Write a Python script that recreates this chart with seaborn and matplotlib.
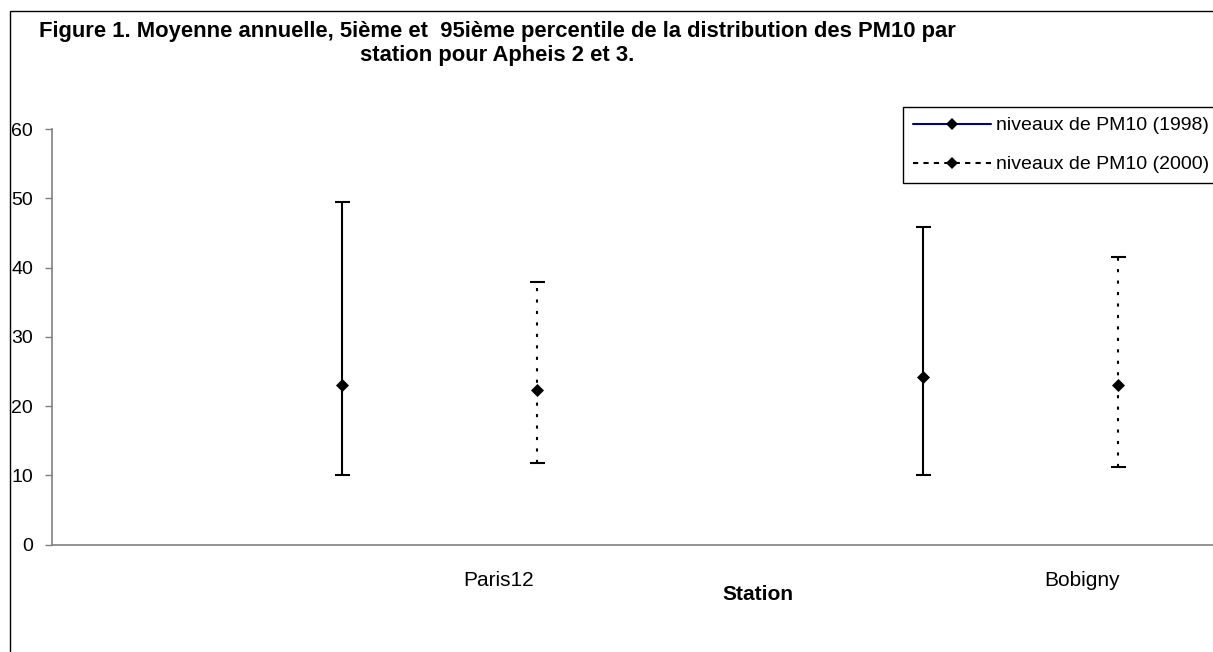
import pandas as pd
import matplotlib.pyplot as plt
import seaborn as sns
from matplotlib.lines import Line2D
from matplotlib.patches import Rectangle

stations = ['Paris12', 'Bobigny']
years = ['1998', '2000']
mean_1998 = [23.0, 24.2]
p5_1998 = [10.0, 10.0]
p95_1998 = [49.5, 45.9]
mean_2000 = [22.3, 23.1]
p5_2000 = [11.8, 11.2]
p95_2000 = [37.9, 41.5]

rows = []
for i, st in enumerate(stations):
    rows.append(dict(station=st, idx=i, annee='1998', moyenne=mean_1998[i], p5=p5_1998[i], p95=p95_1998[i]))
    rows.append(dict(station=st, idx=i, annee='2000', moyenne=mean_2000[i], p5=p5_2000[i], p95=p95_2000[i]))
data = pd.DataFrame(rows)
offset = {'1998': -0.168, '2000': 0.168}
data['pos'] = data['idx'] + data['annee'].map(offset)

sns.set_theme(style='white')
plt.rcParams['font.family'] = ['Liberation Sans', 'DejaVu Sans']
plt.rcParams['text.color'] = 'black'

fig = plt.figure(figsize=(12.13, 6.52), dpi=100)
ax = fig.add_axes([51.7 / 1213, 1 - 544.6 / 652, 1 - 51.7 / 1213, (544.6 - 129) / 652])

styles = {'1998': '-', '2000': (0, (1.5, 4))}
for yr in years:
    d = data[data['annee'] == yr]
    eb = ax.errorbar(d['pos'], d['moyenne'],
                     yerr=[d['moyenne'] - d['p5'], d['p95'] - d['moyenne']],
                     fmt='none', ecolor='black', elinewidth=1.5, capsize=5.4, capthick=1.5)
    for lc in eb[2]:
        lc.set_linestyle(styles[yr])

sns.scatterplot(data=data, x='pos', y='moyenne', marker='D', color='black',
                s=44, edgecolor='black', linewidth=0, legend=False, ax=ax, zorder=5)

ax.set_xlim(-0.668, 1.331)
ax.set_ylim(0, 60)
ax.set_yticks(range(0, 61, 10))
ax.set_xticks([0.102, 1.105])
ax.set_xticklabels(stations)
ax.set_xlabel('')
ax.set_ylabel('')
ax.tick_params(axis='y', length=5, width=1, color='#808080', pad=8.4, labelsize=14,
               labelcolor='black', left=True)
ax.tick_params(axis='x', length=0, pad=19, labelsize=15, labelcolor='black')
sns.despine(ax=ax, top=True, right=True)
for s in ['left', 'bottom']:
    ax.spines[s].set_color('#808080')
    ax.spines[s].set_linewidth(1.2)

fig.text(758 / 1213, 1 - 594 / 652, 'Station', ha='center', va='center',
         fontsize=15, fontweight='bold', color='black')

fig.text(497.5 / 1213, 1 - 37 / 652,
         'Figure 1. Moyenne annuelle, 5ième et  95ième percentile de la distribution des PM10 par',
         ha='center', va='baseline', fontsize=15.8, fontweight='bold', color='black')
fig.text(497.5 / 1213, 1 - 61 / 652, 'station pour Apheis 2 et 3.',
         ha='center', va='baseline', fontsize=15.8, fontweight='bold', color='black')

handles = [Line2D([], [], color='#000080', lw=1.5, marker='D', ms=6.6,
                  mfc='black', mec='black', mew=0),
           Line2D([], [], color='black', lw=1.5, ls=(0, (2.5, 2.5)), marker='D', ms=6.6,
                  mfc='black', mec='black', mew=0)]
leg = fig.legend(handles, ['niveaux de PM10 (1998)', 'niveaux de PM10 (2000)'],
                 loc='upper left', bbox_to_anchor=(903 / 1213, 1 - 107 / 652),
                 fontsize=14, handlelength=4.0, handletextpad=0.3, labelspacing=1.1,
                 borderpad=0.5, borderaxespad=0, fancybox=False, framealpha=1)
leg.get_frame().set_edgecolor('black')
leg.get_frame().set_linewidth(1)

fig.add_artist(Rectangle((10 / 1213, -0.1), 1.2, 1.1 - 11 / 652, transform=fig.transFigure,
                         fill=False, edgecolor='black', linewidth=1))

fig.savefig('out.png', dpi=100)
